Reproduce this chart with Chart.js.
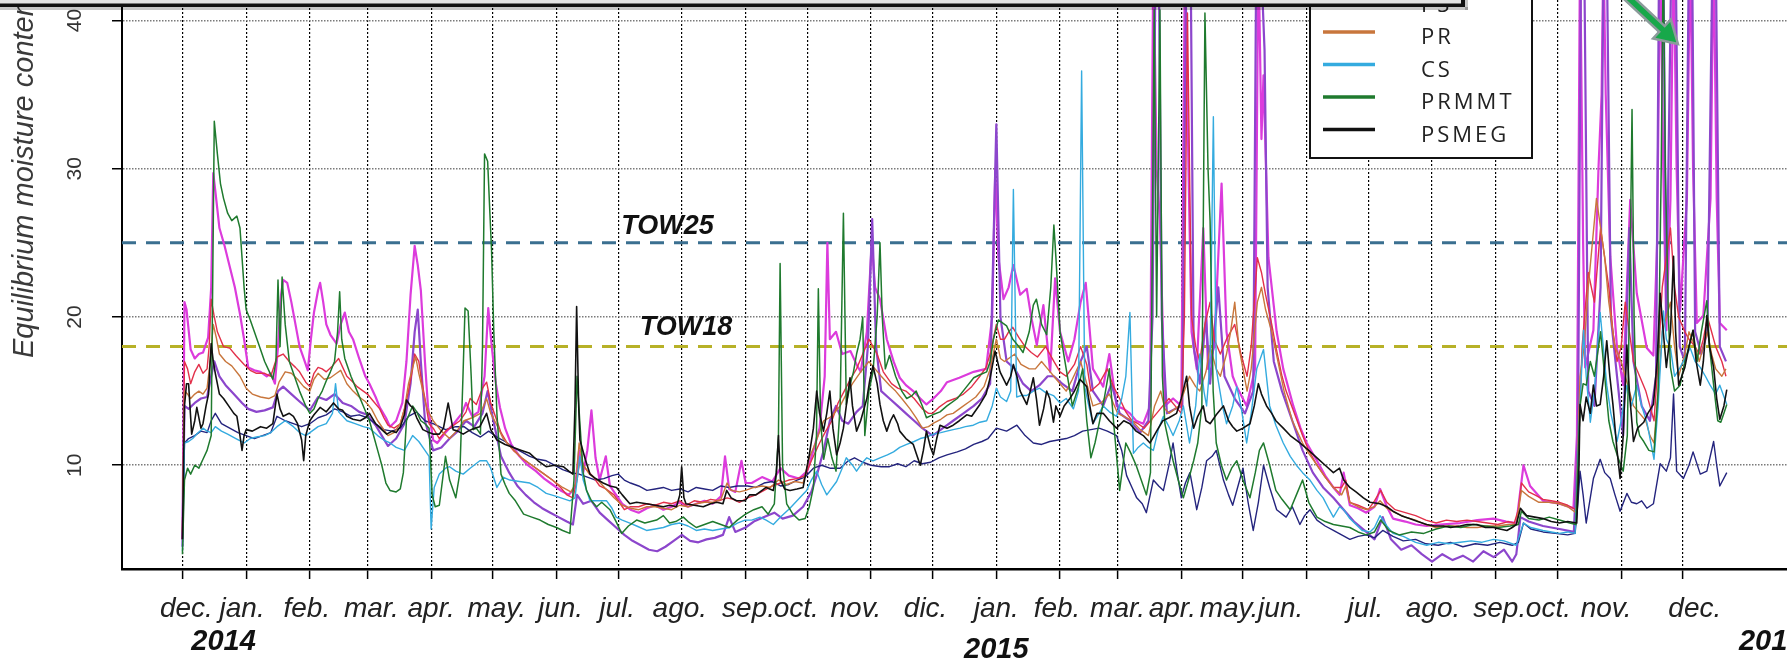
<!DOCTYPE html>
<html>
<head>
<meta charset="utf-8">
<script src="https://cdn.jsdelivr.net/npm/chart.js@4.4.1/dist/chart.umd.min.js"></script>
<style>
html,body{margin:0;padding:0;background:#fff;}
#wrap{width:1787px;height:664px;position:relative;}
</style>
</head>
<body>
<div id="wrap"><canvas id="c"></canvas></div>
<script>
// Day 0 = 1 Dec 2013. Equilibrium moisture content (%) per series, as [day, value] pairs.
const monthDays = [0,31,62,90,121,151,182,212,243,274,304,335,365,396,427,455,486,516,547,577,608,639,669,700,730];
const monthLabels = ['dec.','jan.','feb.','mar.','apr.','may.','jun.','jul.','ago.','sep.','oct.','nov.','dic.','jan.','feb.','mar.','apr.','may.','jun.','jul.','ago.','sep.','oct.','nov.','dec.'];
const yearLabels = ['2014','2015','2016'];
const yTicks = [10,20,30,40];
const towLevels = [25,18];

const ppPts = [[0,5],[1,21],[2,20.5],[4,17.8],[6,17.2],[8,17.5],[10,17.6],[12.5,18.6],[14,22],[15,29.7],[16,28.5],[18,26],[20.5,24.8],[23,23.4],[25.5,22],[28,20.2],[30,18.5],[32,16.6],[35,16.4],[38,16.3],[41,16],[43,16.2],[45,15.5],[46.5,18],[48,21.5],[49,22.5],[51,22.3],[53,21],[55,19.5],[57,18],[59,17.2],[61,16.4],[62.5,18.5],[64,20.3],[66,21.8],[67,22.3],[68.5,21],[70,19.5],[72,18.8],[75,18.2],[77,19.5],[79,20.3],[81,19],[83,18.5],[86,17.2],[89,16],[91,15.5],[94,14.6],[96,13.9],[99,13.2],[101,12.6],[104,13],[107,14.2],[109,17],[111,21.5],[113,24.8],[114.5,23.5],[116,21.8],[118,17],[119.5,13.9],[122,11.7],
[124,11.5],[128,12.2],[132,12.8],[136,13.5],[138,14.2],[141,13.3],[144,13.6],[147,16],[148.8,20.6],[150.5,18],[152.5,15.5],[154.5,13.9],[157,12.5],[160,11.4],[164,10.6],[168,10],[172,9.6],[176,9.1],[180,8.7],[184,8.3],[188,8],[191,8.5],[193,11],[195,9.5],[197,11],[199,13.7],[201,10.5],[203,9],[206,10.6],[208,8.6],[211,8],[214,7.4],[218,7],[222,6.8],[226,7.1],[230,7.3],[234,7],[238,7.2],[242,7.5],[246,7.2],[250,7.4],[254,7.6],[258,7.4],[262,7.9],[264,10.6],[266,8.4],[269,8.2],[272,10.3],[274,8.8],
[277,8.8],[282,9.2],[287,8.9],[291,9.8],[295,9.3],[300,9.1],[304,9.6],[307,11],[310,12.5],[312.5,16],[313.8,25],[315,18.5],[318,19],[321,17.5],[325,17.7],[328,16.8],[330,16.3],[333,19],[335.4,25],[337,22],[339.4,21.2],[342.7,18.5],[346,17],[349,15.9],[352,15.4],[355.6,15],[359,14.5],[362,14.1],[365.4,14.5],[369,15],[372,15.6],[378,15.9],[385,16.3],[391,16.5],[394,20],[395.5,30],[397,24],[399.5,21.2],[402,22],[404.3,23.5],[407.6,21.5],[410.8,21.9],[413,20],[415.7,18.1],[418.9,20.8],[422.2,16.3],[424.6,22.6],
[427,19],[431,17],[434,18.5],[437,21],[439.5,22.3],[443,16.5],[448,15.3],[451,17.5],[454.5,14],[458,13.8],[461,13.5],[464,13],[467.5,12.8],[470.8,14],[472.4,45],[474,30],[475.6,26.5],[478,14],[482,14.5],[486,14],[487.8,45],[489.5,30],[491,19],[493.5,16.5],[496.7,26],[499,16.5],[502,18],[505.6,29],[508,19],[511,16],[513,15.3],[517.8,14],[521.9,16.5],[523.5,45],[525,32],[526,36.3],[528.4,24],[532.4,19],[535.6,16.5],[540.5,14],[544,12.5],[547,11.5],[552,10.3],[556,9.3],[560,8.5],[563,8],[565,9.5],[568,7.3],[572,7.1],[576,6.8],
[580,7.2],[582.7,8.4],[586,7.2],[589,6.4],[595,6.2],[600,6],[605.4,5.9],[612,6],[621.7,6.1],[630,6.3],[637.9,6.4],[644,6.2],[649,6.1],[652.5,10],[655.7,8.6],[662,7.6],[670,7.4],[676.8,7.1],[678.5,12],[680,45],[681.5,25],[682.5,16.6],[686.5,19.1],[689,30.1],[690.5,35],[691.4,45],[692.5,35],[694.7,24.1],[698,17.9],[701,15.4],[704.4,27.9],[707.6,21.6],[712.5,17.9],[715.7,17.4],[717.5,25],[719,45],[720.5,30],[722,19.1],[724,28],[725.5,45],[727,30],[728.7,20.4],[732,28],[733.6,45],[735,30],[736.8,19.6],[740,20.1],[743.5,28],[745,45],[746.5,28],[748,19.6],[751.4,19.1]];

const eqPts = [[0,4.5],[1,14],[3,13.8],[6,14.2],[9,14.5],[12,14.6],[14,16],[15.5,17],[18,16],[21,15.4],[25,14.8],[29,14.2],[32,13.8],[36,13.6],[40,13.7],[44,13.9],[46.5,15],[49,15.3],[53,14.8],[57,14.3],[62,13.7],[66,14.6],[70,14.4],[74,14.8],[78,14.2],[82,14],[86,13.6],[90,13.4],[94,12.7],[97,12],[100,11.3],[104,11.8],[108,12.8],[111,15.5],[113,19],[114.5,20.5],[116,17],[118,13],[122,11],
[126,11.2],[130,11.8],[134,12.3],[138,13],[142,12.6],[146,13.5],[148.5,15],[151,13.2],[155,10.6],[159,9.5],[163,8.6],[167,8],[171,7.5],[175,7.1],[179,6.8],[183,6.5],[187,6.2],[190,6],[192,8],[195,7.4],[199,7.6],[203,6.8],[207,6.3],[211,5.8],[215,5.3],[219,4.9],[223,4.6],[227,4.3],[231,4.2],[235,4.5],[239,4.9],[243,5.3],[247,4.9],[251,4.8],[255,5],[259,5.1],[263,5.3],[266,6.5],[269,5.5],[274,5.8],
[278,6.2],[283,6.5],[288,6.8],[292,6.4],[297,6.6],[302,7.2],[306,8.2],[309,9.5],[312,11],[315,13],[318,14],[321,13],[324,12.8],[328,13.6],[331,14],[333.5,18],[335.6,26.6],[337.5,18],[340,15],[344,14.5],[348,14],[352,13.5],[356,13],[360,12.5],[365,12],[370,12.5],[375,13],[380,13.5],[385,14],[389,14.5],[393,15.5],[396,33],[398,20],[401,17],[405,16.5],[409,15.5],[413,15],[417,15.4],[421,16],[424,16],
[428,15.5],[433,15],[437,17],[440,18],[443,15],[448,14],[452,15.5],[456,13.5],[461,13],[466,12.2],[470,13],[472,20],[473.5,45],[475,45],[476.5,20],[479,13.5],[483,13.8],[486.5,14],[488.5,45],[490.5,45],[492,18],[495,15.5],[498,20],[500,15.5],[504,22],[507,16],[512,14.5],[517,13.5],[521,15],[522.5,45],[524.5,45],[526.5,38],[528,22],[531,17],[535,15],[540,13],[545,11],[550,9.5],[555,8.5],[560,7.8],[565,7],[570,6.2],[576,5.5],
[580,5],[584,6.5],[588,5],[593,4.3],[598,4.6],[603,4],[608,3.5],[613,4],[618,3.6],[623,3.9],[628,3.5],[633,4.2],[638,3.8],[643,4.3],[647,3.5],[649,4],[651,6.5],[655,6.2],[662,5.9],[670,5.7],[677,5.5],[679,12],[680.5,45],[682,45],[684,15],[687,14],[690,22],[691.5,45],[693,45],[695,20],[698,16],[701,12],[704,26],[706,17],[710,14],[714,13],[717,16],[718.5,45],[720.5,45],[722,20],[724.5,45],[726.5,45],[728.5,18],[731,17],[733,45],[734.5,45],[736,19],[739,17.5],[742,19],[744.5,45],[746,45],[748,18],[751,17]];

const qrPts = [[0,5],[1,11.5],[3,11.8],[6,12],[9,12.3],[12,12.2],[14,13],[16,13.5],[19,12.8],[23,12.5],[27,12.2],[31,12],[35,11.8],[39,12],[43,12.2],[46,13.3],[50,13],[54,12.8],[58,12.6],[62,12.8],[66,13.2],[70,13.4],[74,13.8],[78,13.6],[82,13.3],[86,13.4],[90,13.2],[94,12.8],[98,12.4],[102,12.3],[106,12.5],[110,13.3],[114,13.6],[118,13],[122,12.8],[128,12.4],[133,12.6],[137,12.6],[141,12.2],[145,11.9],[149,12.3],[153,11.9],[157,11.6],[161,11.2],[165,10.9],[169,10.6],[173,10.4],[177,10.3],[181,10],[185,9.7],[189,9.5],[193,9.4],[197,9.2],[201,9],[205,9.1],[209,9.3],[212,9.4],[215,9],[218,8.8],[222,8.6],[226,8.3],[230,8.4],[234,8.5],[238,8.3],[242,8.4],[246,8.2],[250,8.5],[254,8.4],[258,8.3],[262,8.6],[266,8.5],[270,8.6],[275,8.6],[279,8.5],[283,8.8],[287,8.9],[291,8.6],[295,8.7],[299,9],[303,9.2],[307,9.8],[311,10],[315,9.8],[320,9.8],[324,10.3],[327,10.5],[331,10.2],[335,10],[340,9.9],[344,9.9],[348,10.1],[352,9.9],[356,10.3],[360,10.1],[364,10.2],[368,10.5],[372,10.7],[377,10.9],[381,11.1],[385,11.4],[389,11.6],[392,11.8],[396,12.5],[401,12.3],[406,12.7],[410,12],[414,11.5],[418,11.4],[422,11.6],[426,11.7],[430,11.8],[434,12],[438,12.3],[442,12.4],[446,12.5],[450,12.3],[454.5,12],[457,11],[459.4,9.3],[462,8.5],[464.3,7.8],[467,7.4],[469,6.8],[472.4,9],[475,8.6],[477.3,8.3],[480,10],[482,11.5],[484,9.5],[486,7.8],[488,8.8],[490.2,9.5],[493.5,7],[496,8.5],[498.3,10.3],[501,10.6],[503,11],[506.5,9],[509,8],[511,7.3],[514,8.8],[516,9.8],[518.5,7.5],[521,5.6],[523.5,7.5],[526,10],[529,8.5],[532.4,7],[537,6.5],[540,7.2],[543.7,6],[546,6.6],[548.6,7],[552,6.3],[556,5.9],[560,5.6],[564,5.3],[568,5],[572,5.2],[576,5.3],[580,5.1],[584,5.6],[589,5.2],[594,4.9],[600,5],[605,4.7],[611,4.6],[617,4.8],[623,4.5],[629,4.7],[635,4.6],[641,4.8],[647,4.6],[650,4.8],[652.5,6.1],[656,5.7],[662,5.5],[668,5.4],[674,5.3],[677.6,5.4],[679,7.5],[680,9.6],[681.5,8],[683,6.1],[686.5,9.1],[689.8,10.4],[692,9.5],[694.7,9.1],[697,8],[699.5,6.9],[702.8,8.1],[705,7.5],[707.6,7.4],[710,7.6],[712.5,7.1],[715.7,7.4],[719,10.1],[722,9.6],[724,10.5],[725.5,14.8],[727,9.6],[730.3,9.1],[733,10],[735,10.9],[738.5,9.4],[741.7,9.6],[745,11.6],[746.5,10],[748,8.6],[751.4,9.5]];

const psPts = [[0,5],[1,17],[2.5,16.5],[4,15.5],[6,16.3],[8,16.8],[10,16.2],[12,16.5],[13,18],[14,21.2],[15.5,20],[17,19],[20,18],[23,17.9],[26,17.4],[30,16.8],[33,16.4],[36,16.2],[40,16.2],[43,16],[46,17.3],[49,17.5],[52,17],[55,16.6],[57,16.3],[60,15.6],[62,15.3],[64,16.2],[66,16.6],[68,16.5],[70,16.3],[73,16.7],[76,17.2],[78,16.6],[80,16],[83,15.6],[85,15.3],[88,15],[90,14.8],[93,14.3],[96,13.8],[98,13.2],[100,12.7],[103,12.5],[106,12.8],[108,13.8],[110,15],[112,16.5],[113,17.5],[115,17],[116,16],[118,14.5],[120,12.8],[122,12.5],
[125,11.8],[128,12.3],[131,12.6],[135,13],[138,13.6],[140,14.5],[143,14.1],[146,15.2],[148,15.6],[150,14.2],[152.5,13.2],[155,12.2],[158,11.5],[161,11],[165,10.5],[170,10],[175,9.5],[180,9],[184,8.5],[187,8],[190,7.8],[192,9],[193.5,10.5],[196,9.8],[200,9.2],[203,8.6],[206,8.4],[210,8],[213,7.4],[215,7],[218,7.2],[222,7.2],[226,7.4],[230,7.3],[234,7.5],[238,7.4],[242,7.6],[245,7.3],[249,7.6],[253,7.5],[257,7.7],[261,7.6],[265,7.8],[268,7.7],[271,7.5],
[275,7.8],[279,8],[283,8.3],[287,8.6],[291,8.8],[295,9],[299,9.1],[303,9.3],[306,10.3],[310,11.5],[313,12.3],[316,13],[319,14.2],[322,15],[325,15.8],[328,16.5],[331,17.5],[334,18.5],[336,18],[338,17.5],[341,16.3],[345,15.5],[348,15.2],[352,15],[356,14.5],[360,13.8],[363,13.5],[365,13.5],[368,13.9],[372,14.3],[376,14.5],[380,14.8],[384,15.3],[388,16],[391,16.6],[393,17.5],[396,19.5],[398,18.5],[400,18.5],[402,19],[404,19.3],[407,18.6],[410,18],[413,17.6],[416,17.3],[420,18],[424,17],
[427,16.3],[430,16],[434,16.8],[437,18],[440,16.8],[442,15],[446,15.5],[450,16.5],[453,15.3],[456,14.5],[459,13.6],[462,13],[465,12.8],[468,12.5],[471,13],[474,13.5],[477,14],[480,14.5],[483,14],[486,13.5],[487.5,20],[489,40.5],[490,30],[491,20],[493,18],[495,17],[497.5,19.5],[500,21],[502,18.5],[505,17.5],[508,18.5],[512,19.5],[515,17.5],[518,16],[520,18],[523,24],[525,23],[527,21.5],[530,19.5],[532,18],[535,16],[537,15],[541,13.5],[545,12],[548,11],[552,10],[556,9.2],[560,8.5],[564,8.5],[566,9],[568,7.5],[572,7.3],[577,7],
[580,7.6],[583,8.3],[586,7.5],[590,7],[595,6.8],[600,6.6],[605,6.3],[610,6.1],[615,6.3],[620,6.2],[625,6.3],[630,6.2],[635,6.1],[640,6],[645,6.2],[648,6.1],[650,7],[651.5,8.8],[655,8.2],[658,8],[662,7.7],[666,7.6],[670,7.5],[674,7.3],[678,7],[679.5,12],[681,18],[684,23],[687,21],[690,26],[692,24],[694,22],[696,19],[698,17],[700,18],[702,21],[704,19],[706,17],[709,16],[712,15],[714,14],[716,13],[718,17],[720,22],[722,24],[724,26],[726,22],[728,20],[731,19],[733,18.5],[736,18],[738,17.5],[740,18.5],[742,20],[744,19],[746,18],[749,17],[751,16]];

const prPts = [[0,5.5],[1,15],[2.5,14.8],[4,14.5],[6,14.8],[8,15],[10,14.8],[12,15.2],[13.5,17],[15,19.5],[16.5,18.6],[18,17.5],[21,17],[24,16.7],[28,16],[31,15.2],[34,14.8],[38,14.6],[42,14.5],[45,14.7],[47,15.6],[50,16.3],[53,16.2],[56,15.8],[59,15.3],[62,15],[64,15.8],[66,16.2],[69,15.8],[72,15.9],[75,16.2],[77,16.4],[80,15.5],[83,15],[86,14.6],[89,14.3],[92,13.8],[95,13],[98,12.4],[100,12],[103,12.2],[106,12.8],[108,13.8],[110,15.5],[112,16.6],[113.5,17.3],[115,16.2],[117,15],[119,13.8],[122,13],
[126,12.3],[130,11.8],[134,12.4],[137,13],[141,13.2],[145,13.5],[148,14.5],[150,13.5],[153,12.7],[156,11.8],[160,11.2],[165,10.5],[170,10],[175,9.5],[180,9],[185,8.5],[189,8.2],[191.5,8.8],[193,11.5],[195,10],[198,9.4],[202,9],[206,8.4],[210,7.8],[214,7.3],[218,7.1],[222,7],[226,7.2],[230,7.2],[234,7.1],[238,7],[242,7.3],[246,7.2],[250,7.4],[254,7.5],[258,7.5],[262,7.7],[265,8.8],[267,8.3],[271,8.2],[274,8.3],
[278,8.5],[282,8.6],[286,8.5],[290,9],[294,8.7],[298,8.9],[302,8.8],[305,10.5],[308,11.5],[312,13],[316,13.3],[320,14],[323,14.8],[326,15.5],[330,16.3],[334,17],[337,16.5],[340,16],[344,15.4],[347,15],[350,14.5],[354,13.8],[357,13.2],[360,12.5],[363,12.6],[365,12.8],[369,13.1],[372,13.4],[375,13.5],[379,13.9],[383,14.3],[386,14.6],[390,15.3],[393,16.5],[396,18.5],[398,17.2],[400,17],[403,17.3],[405,17.5],[408,16.8],[412,16.5],[415,16.5],[418,17],[421,16.5],[424,16],
[427,15.5],[430,15],[433,15.8],[437,17],[440,15.5],[443,14],[447,14.2],[451,14.8],[455,13.5],[458,13.3],[462,13],[466,12.4],[470,12],[473,14],[476,15],[478,13.8],[480,13.5],[483,13.8],[485,14],[488,15.2],[490,16],[493,15.3],[495,15],[498,16.3],[500,18],[503,16.5],[505,16],[508,17.5],[510,19],[512,21],[514,18],[518,15],[520,16.5],[523,21],[525,22],[527,20.5],[530,19],[533,17],[536,15],[540,13],[545,11.5],[548,10.8],[552,10],[556,9.2],[560,8.5],[564,8],[566,8.6],[568,7.5],[572,7.2],[576,7],
[580,7.2],[582.7,7.6],[586,7.1],[590,6.8],[595,6.5],[600,6.3],[605,6],[610,5.8],[615,5.9],[620,5.9],[625,5.8],[630,5.8],[635,5.9],[640,5.9],[645,6],[649,6],[651.5,8.3],[655,7.9],[660,7.5],[665,7.5],[670,7.4],[674,7.2],[678,6.8],[680,16],[682,18],[684,22],[686,25],[688,28],[690,26],[692,24],[694,21],[697,18],[700,17],[702,16],[704,15],[706,14],[709,13.5],[712,13],[714,12],[716,11.5],[718,15],[720,19],[722,20],[724,21],[726,18],[728,16],[731,17.5],[733,19],[736,18],[738,17],[740,18],[742,19],[744,17.5],[746,16.5],[749,16],[751,16.5]];

const csPts = [[0,4.2],[1,11.5],[3,11.6],[5,11.8],[7,12.1],[10,12.5],[12,12.3],[14,12.2],[16,12.6],[19,12.3],[22,12.1],[26,11.8],[30,11.5],[33,11.8],[36,11.9],[40,12],[43,12.2],[46,12.6],[50,13],[54,12.6],[57,12.2],[60,12],[63,12.3],[66,12.6],[70,12.8],[73,13.5],[74.5,15.5],[76,13.6],[80,13],[84,12.8],[88,12.6],[91,12.5],[95,12],[98,11.7],[101,11.5],[104,11.2],[108,11],[110,11.5],[112,12],[115,11.6],[118,11],[120,10.6],[121,5.7],[122.5,8.5],[125,9.4],[128,9.8],[130,9.9],[133,9.6],[136.6,9.4],[140,9.8],[144.7,10.3],[148,10.3],[150,9.8],[153,8.5],[156,9.2],[159.3,9],[164,8.9],[169,8.8],[173,8.5],[177,8.1],[182,7.9],[188.5,7.6],[191,7.8],[193.4,10.6],[195,9],[198.3,7.6],[202,7.6],[206.4,7.6],[209,7.1],[211,6.5],[214,6.3],[217.7,6.1],[221,5.9],[225.8,5.6],[230,5.7],[234,5.8],[238,6],[242,6.1],[246,5.9],[250,5.6],[254,5.7],[258,5.6],[262,5.7],[266.4,5.8],[270,6.1],[273.7,6.3],[277,6.3],[281,6.5],[284,6.3],[287.5,6],[291,6.5],[295.6,7.1],[299,7.6],[303.7,8.3],[306,9],[308.6,9.6],[311,8.7],[313.5,8],[318.3,8.9],[321,9.8],[323,10.5],[326,10],[328,9.6],[331,10.2],[333,10.5],[336,10.3],[339.4,10.5],[343,10.7],[346,10.9],[349,11.2],[352.4,11.4],[356,11.6],[359,11.8],[362,11.9],[365.4,12.1],[369,12.2],[371.9,12.3],[375,12.4],[378.4,12.5],[381,12.6],[384.8,12.7],[388,12.9],[391.3,13],[394,14],[396,15.2],[398,14.6],[401,14.3],[403,15],[404.3,28.6],[405.9,14.6],[408,14.7],[410.8,14.7],[414,15],[417,15.2],[420,14.9],[423.8,14.7],[427,14.2],[430,14.5],[433.5,13.8],[436,15],[437.5,36.6],[439,15.3],[441,14],[443,12.8],[446,13.5],[448,14],[451,13.6],[454.5,13.3],[457,14.5],[459,16],[461,20.3],[462.7,10.8],[465,11.2],[467.5,11.5],[470,11.2],[472.4,11],[475,12.5],[477.3,13.3],[480,12.6],[482,12],[485,13],[487,14],[490,11.5],[493,14],[495,17.5],[497,15],[498.3,14],[500,17],[501.6,33.5],[503,16.5],[506,14],[508,12.8],[511,14],[513,15.3],[515,14],[517.8,11.5],[520,13.5],[522.7,16.5],[526,17.8],[529,14],[532,12.7],[535.6,11.5],[539,10.6],[542,10],[545,9.5],[548.6,9],[552,8.3],[555,7.8],[558,7],[560,6.5],[563,7.2],[565,7],[568,6.4],[571,6],[574,5.6],[577.8,5.5],[580,5.8],[582.7,6.6],[586,5.9],[589,5.4],[594,5.2],[600,4.8],[605.4,4.6],[611,4.8],[616,4.7],[621.7,4.8],[627,4.9],[632,4.8],[637.9,5],[643,4.9],[649,4.6],[652.5,6.1],[656,5.8],[662,5.6],[666,5.5],[670,5.4],[674,5.5],[677.6,5.4],[680,14.1],[681.7,19.1],[683,16],[685,12.9],[687,15],[689.8,20.3],[693,15.4],[695,13.5],[698,11.6],[700,13],[702.8,15.4],[705,14],[707.6,15.4],[710,14],[712.5,12.9],[716,10.4],[718,14],[720.6,20.4],[722,18.5],[724,17.9],[726,16],[728.7,16.6],[731,17.2],[733.6,17.9],[736,17],[738.5,16.6],[741,16],[743.3,15.4],[746,14.8],[748,15.4],[751.4,14.1]];

const prmmtPts = [[0,4],[1,9],[2.5,9.8],[4,9.4],[6,10],[8,9.8],[10,10.4],[12,11],[14,12],[15.5,33.2],[17,31],[18.5,29],[20,28],[22,27],[24,26.5],[26.5,26.8],[28,26],[30,22],[31,20.5],[33,19.8],[35,19],[38,17.8],[40,17],[42,16.4],[44,15.8],[45.5,17],[46.5,22.5],[47.5,18],[48.5,22.7],[50,19.5],[52,17],[54,16.2],[57,15],[60,14],[62,13.5],[64,13.8],[66,14.5],[68,15],[70,15.7],[72,16.3],[74,17],[75.5,19],[76.5,21.7],[77.5,18.5],[79,17.2],[82,16],[85,15],[88,14],[91,13],[93,12],[95,11],[97,10],[99,8.8],[101,8.3],[104,8.2],[106,8.4],[107.5,9.5],[109,13],[112,14],[114,13.6],[116,13],[118,12.8],[120,12.5],[121.5,8],[123,7.2],[125,7.3],[128,10.6],[130,9],[133,7.8],[135,9.5],[136.5,16],[137.5,20.6],[139,20.4],[140.5,16],[141.5,12.4],[143,12.5],[145,12.1],[146,18],[147,31],[148.5,30.5],[149.6,27],[150.4,24.5],[151.5,19],[153,13.5],[155,9.4],[157,8.7],[159,8.1],[162,7.6],[166,6.7],[170,6.5],[174,6.3],[178,6],[182,5.8],[185,5.6],[188.5,5.4],[190.5,9],[192,16],[193.4,12.8],[195,9.5],[196.6,8.3],[199,7.6],[201.5,7.2],[204,7.5],[208,7],[211,6.2],[213.7,5.4],[217,5.9],[221,6.3],[225,6.1],[230.7,6.3],[234,6.6],[237,6.1],[240,6.2],[243.7,6.5],[246,6.2],[250,5.8],[254,6],[258,6.2],[262,6],[266,5.8],[270,6.3],[274,6.7],[278,7],[282,7.2],[285,6.7],[288,7.4],[290,12],[290.8,23.6],[292,10],[294,7.4],[297,6.7],[300,6.3],[303,6.4],[305,7.2],[307,8.5],[308.5,12],[309.4,21.9],[310.5,13],[312,10.4],[314,11.8],[316,10.5],[318,9.6],[320,14],[321.6,27],[323,14.1],[325,15.5],[326.5,16.3],[328,17.5],[329.7,18.5],[331,20],[332,12],[334,15],[336,16.3],[338,20],[339.4,25],[340.5,20],[342,16.5],[344,17.4],[347,16],[350,15],[352.4,14.5],[355,14.7],[357,15],[360,14],[362,13.2],[365,13.4],[368.6,13.6],[372,14],[377,14.5],[381,15.2],[385,15.9],[388,16.1],[391.3,16.3],[393,17],[394.6,18.5],[397,19.8],[401,19.4],[404,18.5],[407,18],[409,17.6],[412,19],[414,20.8],[415.5,21.2],[418,19.5],[420.5,18.8],[422.5,22],[424,26.2],[425,24],[427,19],[430,16.5],[433,14],[436,15.3],[438,16.5],[440,13],[442,10.5],[444,11.5],[446,12.8],[448.5,14.5],[451,16.5],[453,13],[456,8.3],[459,11.5],[461.5,10.8],[464,10],[466.5,9],[469,8],[471,9.5],[472.8,40.7],[474,20],[475.6,40.7],[476.8,16],[478,12.8],[480,11.5],[482,10.3],[484.5,9],[487,7.8],[489.5,9],[492,10.3],[494,11.5],[496,14],[497.5,40.5],[499,30],[500,26.5],[501.5,15],[503,11.5],[505.5,10],[508,9],[510.5,9.8],[513,10.3],[516,9],[519.4,7.8],[522,9.5],[524,11],[526,11.5],[529,10],[532,8.3],[535,7.7],[539,7],[542,8],[545,9],[548,7.5],[552,6.5],[556,6.2],[560,6],[564,5.9],[568,5.8],[572,5.5],[576,5.3],[580,5.5],[583,6.3],[587,5.6],[592,5.3],[598,5.5],[604,5.4],[610,5.7],[616,5.9],[622,5.8],[628,6],[634,5.9],[640,5.8],[646,5.9],[650,6],[651.5,6.9],[655,6.4],[660,6.3],[665,6.5],[670,6.3],[675,6.1],[678,6],[680,14],[681.5,15.5],[683,15.4],[685,17],[687,16],[690,19],[692,16],[694,13],[696,11.6],[698.5,10.5],[701,9.6],[703,12],[704.5,25],[705.3,34],[706.3,20],[707.6,12.9],[709,12],[711,11.6],[713.5,11],[716,10.9],[718,15],[719.5,30],[720.5,45],[721.5,30],[723,20],[724,16.6],[726,15],[728.7,15.4],[731,17],[733,18],[735,19.1],[737,17],[739,19],[741.7,21.1],[743,18],[745,15.4],[747,13],[748.5,12.9],[750,13.5],[751.4,14.1]];

const psmegPts = [[0,5],[1,14],[2,15.5],[3,15.5],[4.5,12.1],[6,13],[7,13.9],[9,12.5],[10,12.8],[11.5,14],[12.7,14.8],[13.5,17],[14,18.2],[15,17],[16,16.2],[18,14.8],[20,14.5],[23,13.9],[25,13.5],[26.5,13.3],[28,12],[29,11],[30,12],[31,12.4],[34,12.3],[38,12.6],[41,12.5],[44,12.8],[46,14.8],[47.5,13.8],[49,13.3],[52,13.5],[54,13.3],[56,12.8],[58,11.7],[59,10.3],[60,12],[62,13],[64,13.4],[67,13.9],[70,13.6],[73.5,14.2],[76,13.8],[78,13.7],[80,13.3],[83,13.1],[86.5,13],[89,13.2],[91,13.5],[94,12.8],[97,12.4],[99.4,12.1],[102,12.3],[104,12.2],[106,12.6],[108,13.4],[109,14.4],[111,14],[112,13.9],[114,13.2],[117,12.4],[120,12.2],[122,12.1],[125,12.1],[127,12.5],[129.3,14.2],[131.7,12.4],[134,12.3],[136.6,12.1],[139,12.3],[142,12.5],[144.7,12.6],[148,13.5],[150,12.4],[153,11.7],[157,11.4],[161,11.2],[165,11],[169,10.8],[173,10.3],[177,9.9],[181,10],[185.3,9.9],[188,9.6],[190,9.4],[191,14],[191.8,20.7],[192.8,14],[193.4,11.7],[196,10.4],[198.3,9.4],[201,9.1],[204.7,8.8],[208,8.6],[211.2,8.5],[214,8],[217.7,7.4],[221,7.5],[225.8,7.4],[230,7.3],[234,7.2],[237,7.3],[240.4,7.2],[242,8],[242.9,9.9],[244,7.8],[245,7.4],[249,7.3],[253.4,7.2],[257,7.4],[260,7.5],[263,7.4],[264.8,8.3],[267,7.8],[269.6,7.6],[273.7,7.6],[276,8],[279,8],[282,8.3],[284,8.5],[287.5,8.3],[289,9.5],[290,12],[291,9],[293,8.4],[295.6,8.3],[299,8.4],[302,8.5],[305,10.7],[307,12.5],[308.6,15],[310,13.5],[311.9,12.3],[313.5,13.5],[315,15],[316.5,12.5],[318.3,10.7],[320,11.5],[321.6,12.5],[323,14],[324.8,15.9],[326,14],[328,12.3],[330,13],[333,14.5],[334.5,15.8],[336,16.7],[338,15.5],[339.4,14.1],[341,13],[342.7,12.3],[344.5,13],[346,13.4],[348,12.8],[349,12.3],[352,11.8],[355.6,11.4],[357,10.8],[359,10],[360.5,11],[362,12.3],[364,11.2],[365.4,10.7],[367,11.8],[368.6,12.7],[372,12.5],[375,12.7],[378,13],[381.6,13.4],[384,13.3],[388,14.1],[391,14.8],[393,15.9],[395.4,17.7],[397.8,16.3],[401,15.4],[403,16],[404.3,16.8],[406,16],[407.6,15],[410.8,14.1],[412.5,15],[414,15.9],[415.5,14.5],[417,12.7],[419,13.8],[420.5,15],[422,14.5],[423.8,12.9],[425,14],[427,13.3],[429,14],[431.8,14.5],[434,15],[436.7,15.8],[440,15.3],[441.5,14],[443,12.8],[445,13.5],[448,13.5],[451,13],[454.5,12.5],[458,13],[461,12.8],[464,12.3],[467.5,12],[470.8,11.5],[474,12.3],[477,13],[480,13.2],[483.7,13.5],[486,14.5],[488.6,16],[490,14],[492,12.5],[494,13.3],[496.7,14],[498,13],[500,12.8],[503,13.4],[506.5,14],[509,13],[511,12.6],[513,12.3],[516,12.5],[519.4,12.8],[521.5,14],[523.5,15.5],[525,14.8],[527.5,14],[530,13.5],[532,13],[535.6,12.5],[539,12],[543.7,11.5],[548,11],[552,10.5],[556,10],[560,9.5],[563,9.8],[565,9],[568,8.5],[571,8.2],[574.6,7.8],[577.8,7.5],[582.7,7.4],[586,7.2],[589,6.9],[593,6.6],[597,6.4],[601,6.2],[605.4,6],[609,5.9],[613.5,5.9],[617,5.8],[621.7,5.9],[625,6],[629.8,6],[634,5.8],[637.9,5.8],[641,5.7],[644.4,5.6],[647,5.8],[649,6],[651,7.1],[654,6.6],[658,6.5],[662,6.4],[666,6.2],[670,6.1],[674,6.2],[678.4,6.1],[679.5,10],[680,14.1],[681.5,13],[683,14.6],[685,13.5],[686.5,15.4],[688,14],[689.8,14.1],[691.5,16],[693,18.4],[694.5,16],[696,14.1],[698,11],[699.5,9.1],[701,12],[702.8,18.1],[704,15],[706,11.6],[708,12.5],[711,12.9],[713,13.5],[715.7,14.1],[717.5,17],[719,21.6],[720.5,19],[722,16.6],[724,19],[725.5,24.1],[726.5,19],[728,15.4],[729.5,16],[731,16.6],[733,18],[735,19.1],[736.5,17],[738.5,15.4],[740,17],[741.7,20.1],[743,18],[745,16.6],[746.5,14.5],[748,13.1],[750,14],[751.4,15.1]];

// Series in legend order (last entries visible at the bottom of the legend box)
const seriesLabels = ['PP','EG','QR','PS','PR','CS','PRMMT','PSMEG'];
const seriesData = [ppPts, eqPts, qrPts, psPts, prPts, csPts, prmmtPts, psmegPts];

// Styles and layout
const seriesColors = ['#dc3bdc','#8c46cc','#24247e','#e2304a','#c8763c','#34abdf','#1f7a2e','#111111'];
const seriesWidths = [2.2, 2.2, 1.4, 1.4, 1.4, 1.4, 1.5, 1.6];
const towColors = ['#3a6f90','#b7b128'];
// horizontal nudge (px) of each month label relative to its tick
const monthLabelNudge = [4,-4,-3,4,0,4,4,-1,-2,3,-11,-15,-7,0,-3,0,-9,-14,-26,-3,1,4,-9,-15,12];
const X_MIN = -29.4, X_MAX = 780.7, Y_MIN = 3.0, Y_MAX = 41.38;

const toXY = a => a.map(p => ({x: p[0], y: p[1]}));

const datasets = seriesData.map((d, i) => ({
  label: seriesLabels[i],
  data: toXY(d),
  borderColor: seriesColors[i],
  borderWidth: seriesWidths[i],
  pointRadius: 0,
  tension: 0,
  fill: false,
  borderJoinStyle: 'round',
  order: 10 - i
}));

towLevels.forEach((lv, i) => {
  datasets.push({
    label: 'TOW' + lv,
    isThreshold: true,
    data: [{x: X_MIN, y: lv}, {x: X_MAX, y: lv}],
    borderColor: towColors[i],
    borderWidth: 3,
    borderDash: [14, 10],
    pointRadius: 0,
    fill: false,
    order: 50
  });
});

const decorPlugin = {
  id: 'decor',
  afterDatasetsDraw(chart) {
    const ctx = chart.ctx;
    const xs = chart.scales.x, ys = chart.scales.y;
    // threshold labels
    ctx.save();
    ctx.font = 'italic bold 27px "Liberation Sans", Arial, sans-serif';
    ctx.fillStyle = '#111';
    ctx.textAlign = 'center';
    ctx.textBaseline = 'middle';
    const towDays = [236, 245];
    const towOffsets = [16, 19];
    towLevels.forEach((lv, i) => {
      ctx.fillText('TOW' + lv, xs.getPixelForValue(towDays[i]), ys.getPixelForValue(lv) - towOffsets[i]);
    });
    ctx.restore();
  },
  afterDraw(chart) {
    const ctx = chart.ctx;
    const xs = chart.scales.x, ys = chart.scales.y;
    ctx.save();
    // y tick labels (rotated)
    ctx.font = '21px "Liberation Sans", Arial, sans-serif';
    ctx.fillStyle = '#333';
    ctx.textAlign = 'center';
    ctx.textBaseline = 'middle';
    yTicks.forEach(v => {
      const y = ys.getPixelForValue(v);
      ctx.save();
      ctx.translate(75, y);
      ctx.rotate(-Math.PI / 2);
      ctx.fillText(String(v), 0, 0);
      ctx.restore();
    });
    // y axis title
    ctx.save();
    ctx.font = 'italic 29px "Liberation Sans", Arial, sans-serif';
    ctx.fillStyle = '#3a3a3a';
    ctx.textAlign = 'left';
    ctx.textBaseline = 'middle';
    ctx.translate(25, 358);
    ctx.rotate(-Math.PI / 2);
    ctx.fillText('Equilibrium moisture content (%)', 0, 0);
    ctx.restore();
    // month labels
    ctx.font = 'italic 28px "Liberation Sans", Arial, sans-serif';
    ctx.fillStyle = '#222';
    ctx.textAlign = 'center';
    ctx.textBaseline = 'middle';
    monthDays.forEach((d, i) => {
      ctx.fillText(monthLabels[i], xs.getPixelForValue(d) + monthLabelNudge[i], 609);
    });
    // year labels
    ctx.font = 'italic bold 29px "Liberation Sans", Arial, sans-serif';
    ctx.fillStyle = '#111';
    const yearDays = [20, 396, 773];
    const yearY = [642, 650, 642];
    yearLabels.forEach((t, i) => {
      ctx.fillText(t, xs.getPixelForValue(yearDays[i]), yearY[i]);
    });
    // legend box
    const lx0 = 1310, lx1 = 1532, lyBottom = 158, step = 32.5, lastY = 129.5;
    const n = seriesLabels.length;
    ctx.fillStyle = '#fff';
    ctx.fillRect(lx0, -400, lx1 - lx0, lyBottom + 400);
    ctx.strokeStyle = '#111';
    ctx.lineWidth = 2;
    ctx.strokeRect(lx0, -400, lx1 - lx0, lyBottom + 400);
    ctx.font = '22px "Open Sans", "Liberation Sans", sans-serif';
    ctx.textAlign = 'left';
    ctx.textBaseline = 'middle';
    try { ctx.letterSpacing = '3px'; } catch (e) {}
    for (let i = 0; i < n; i++) {
      const y = lastY - (n - 1 - i) * step;
      ctx.strokeStyle = seriesColors[i];
      ctx.lineWidth = 3.5;
      ctx.beginPath();
      ctx.moveTo(1323, y);
      ctx.lineTo(1375, y);
      ctx.stroke();
      ctx.fillStyle = '#222';
      ctx.fillText(seriesLabels[i], 1421, y + 6);
    }
    try { ctx.letterSpacing = '0px'; } catch (e) {}
    // window edge across the top
    ctx.fillStyle = 'rgba(0,0,0,0.22)';
    ctx.fillRect(0, 7, 1468, 3);
    ctx.fillRect(1465, 0, 3, 10);
    ctx.fillStyle = '#e4e4e4';
    ctx.fillRect(0, 0, 1462, 4);
    ctx.fillStyle = '#111';
    ctx.fillRect(0, 3.5, 1465, 3.5);
    ctx.fillRect(1461, 0, 4, 7);
    // pointer arrow
    const tip = [1678, 44], tail = [1618, -12];
    const ang = Math.atan2(tip[1] - tail[1], tip[0] - tail[0]);
    const len = Math.hypot(tip[0] - tail[0], tip[1] - tail[1]);
    ctx.translate(tail[0], tail[1]);
    ctx.rotate(ang);
    const hl = 22, hw = 13, sw = 4;
    ctx.beginPath();
    ctx.moveTo(0, -sw);
    ctx.lineTo(len - hl, -sw);
    ctx.lineTo(len - hl, -hw);
    ctx.lineTo(len, 0);
    ctx.lineTo(len - hl, hw);
    ctx.lineTo(len - hl, sw);
    ctx.lineTo(0, sw);
    ctx.closePath();
    ctx.fillStyle = '#17a84a';
    ctx.fill();
    ctx.strokeStyle = '#8c9b9b';
    ctx.lineWidth = 2.5;
    ctx.stroke();
    ctx.restore();
  }
};

new Chart(document.getElementById('c'), {
  type: 'line',
  data: { datasets },
  options: {
    responsive: true,
    maintainAspectRatio: false,
    animation: false,
    events: [],
    layout: { padding: 0 },
    plugins: { legend: { display: false }, tooltip: { enabled: false } },
    scales: {
      x: {
        type: 'linear',
        min: X_MIN,
        max: X_MAX,
        afterBuildTicks: s => { s.ticks = monthDays.map(v => ({ value: v })); },
        afterFit: s => { s.height = 95; },
        ticks: { display: false },
        grid: { color: '#000', lineWidth: 1.2, tickLength: 10, tickColor: '#000', tickWidth: 1.5, tickBorderDash: [] },
        border: { display: true, color: '#000', width: 2.5, dash: [2, 2] }
      },
      y: {
        type: 'linear',
        min: Y_MIN,
        max: Y_MAX,
        afterBuildTicks: s => { s.ticks = yTicks.map(v => ({ value: v })); },
        afterFit: s => { s.width = 122; },
        ticks: { display: false },
        grid: { color: '#7a7a7a', lineWidth: 1.5, tickLength: 10, tickColor: '#000', tickWidth: 1.5, tickBorderDash: [] },
        border: { display: true, color: '#000', width: 2, dash: [1.5, 1.5] }
      }
    }
  },
  plugins: [decorPlugin]
});
</script>
</body>
</html>
